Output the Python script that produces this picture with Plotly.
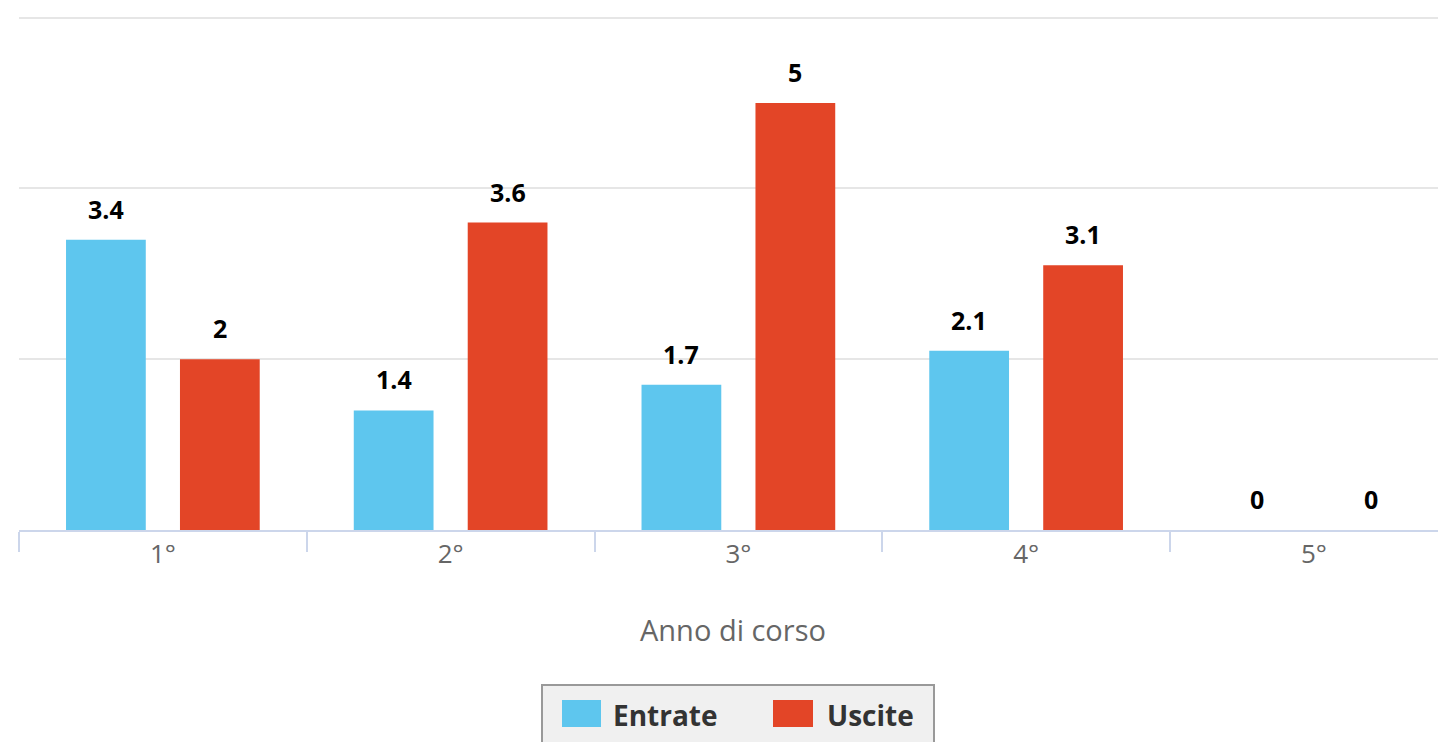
import plotly.graph_objects as go

categories = ["1°", "2°", "3°", "4°", "5°"]
entrate = [3.4, 1.4, 1.7, 2.1, 0]
uscite = [2, 3.6, 5, 3.1, 0]
series_names = ["Entrate", "Uscite"]
colors = ["#5ec6ee", "#e34527"]
x_title = "Anno di corso"

OFF = 8  # page body margin
W, H = 1446 - OFF, 742 - OFF
L, R, T, B = 19 - OFF, 0, 16 - OFF, 212
pw, ph = W - L - R, H - T - B
cat_px = 287.75
x_hi = -0.5 + pw / cat_px
y_hi = 6.02

def px_to_paper_x(px):
    return (px - OFF - L) / pw

def px_to_paper_y(py):
    return (530 - py) / ph

fig = go.Figure()
for name, vals, col in zip(series_names, [entrate, uscite], colors):
    fig.add_trace(go.Bar(x=categories, y=vals, name=name, marker=dict(color=col, line=dict(width=0)),
                         showlegend=False))

annotations = []
offsets = [-0.198, 0.198]
for vals, off in zip([entrate, uscite], offsets):
    for i, v in enumerate(vals):
        annotations.append(dict(x=i + off, y=v, xref="x", yref="y", text=f"<b>{v:g}</b>",
                                showarrow=False, yanchor="bottom", yshift=12,
                                font=dict(family="Open Sans", size=25, color="#000000")))

annotations.append(dict(x=0.5, y=px_to_paper_y(629), xref="paper", yref="paper", text=x_title,
                        showarrow=False, xanchor="center", yanchor="middle",
                        font=dict(family="Open Sans", size=29, color="#666666")))

# custom legend
shapes = [
    dict(type="rect", xref="paper", yref="paper",
         x0=px_to_paper_x(542), x1=px_to_paper_x(934), y0=px_to_paper_y(760), y1=px_to_paper_y(685),
         fillcolor="#f0f0f0", line=dict(color="#999999", width=2), layer="below"),
    dict(type="rect", xref="paper", yref="paper",
         x0=px_to_paper_x(562), x1=px_to_paper_x(601), y0=px_to_paper_y(727), y1=px_to_paper_y(700),
         fillcolor=colors[0], line=dict(width=0)),
    dict(type="rect", xref="paper", yref="paper",
         x0=px_to_paper_x(773), x1=px_to_paper_x(813), y0=px_to_paper_y(727), y1=px_to_paper_y(700),
         fillcolor=colors[1], line=dict(width=0)),
]
for name, px in zip(series_names, [611, 825]):
    annotations.append(dict(x=px_to_paper_x(px), y=px_to_paper_y(715), xref="paper", yref="paper",
                            text=f"<b>{name}</b>", showarrow=False, xanchor="left", yanchor="middle",
                            font=dict(family="Open Sans", size=28, color="#333333")))

fig.update_layout(
    width=W, height=H,
    margin=dict(l=L, r=R, t=T, b=B),
    paper_bgcolor="white", plot_bgcolor="white",
    barmode="group", bargap=0.208, bargroupgap=0.3,
    annotations=annotations, shapes=shapes,
    showlegend=False,
    font=dict(family="Open Sans"),
)
fig.update_xaxes(range=[-0.5, x_hi], showgrid=False, showline=True, linecolor="#ccd6eb", linewidth=2,
                 ticks="outside", tickson="boundaries", ticklen=20, tickcolor="#ccd6eb", tickwidth=2,
                 tickfont=dict(family="Open Sans", size=26, color="#666666"), fixedrange=True)
fig.update_yaxes(range=[0, y_hi], showgrid=True, gridcolor="#e6e6e6", gridwidth=2, dtick=2,
                 showticklabels=False, zeroline=False, fixedrange=True)

fig.write_html("out.html", config={"displayModeBar": False})
